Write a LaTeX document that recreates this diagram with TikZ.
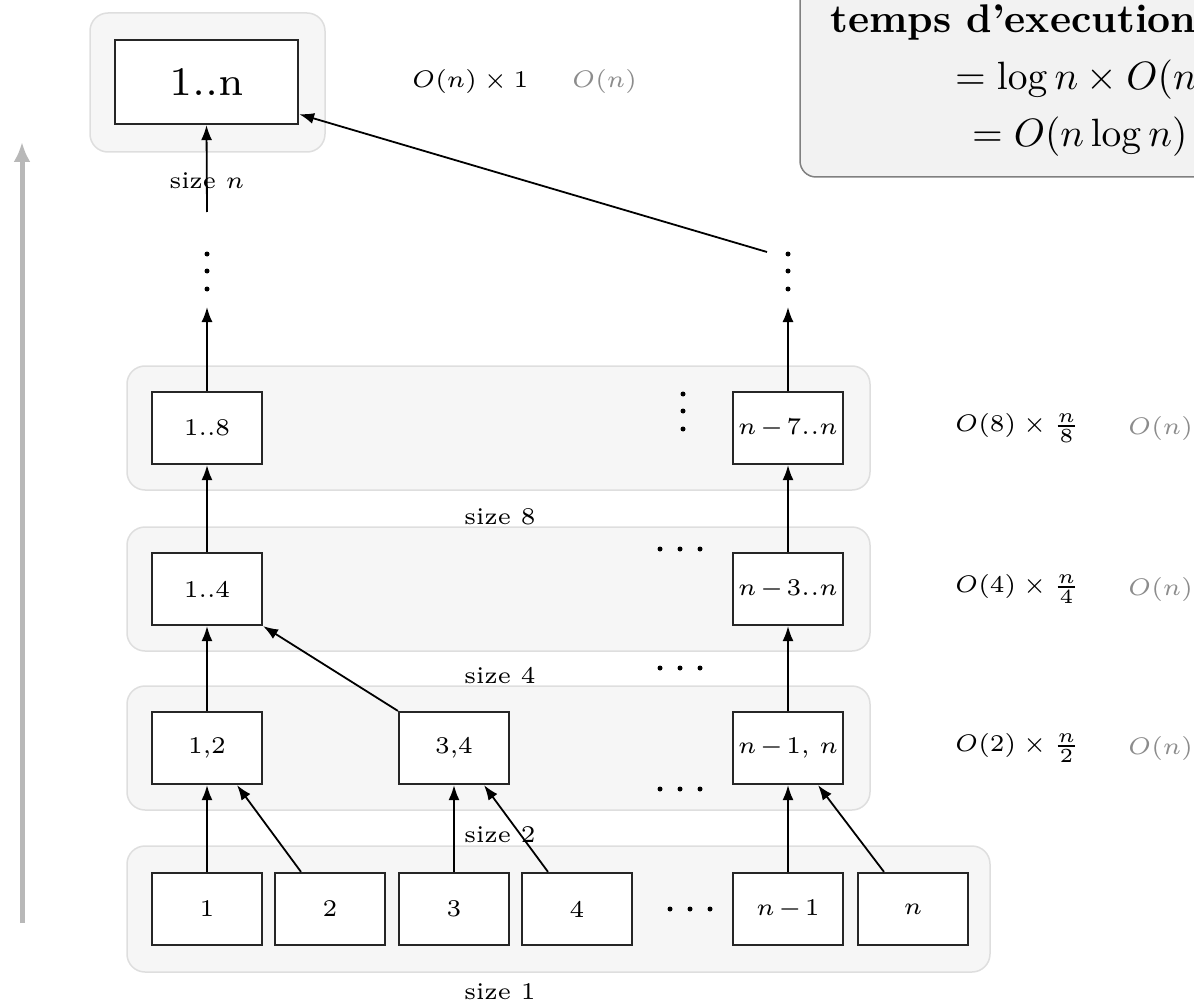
\documentclass[tikz,border=0pt]{standalone}
\usepackage{graphicx}
\usetikzlibrary{arrows.meta}
% small-design-size text blown up, for the cell and level labels
\newcommand{\tinylbl}[1]{\scalebox{4}{\fontsize{6}{7}\selectfont #1}}
% minus with tight spacing, as used in the cell labels
\newcommand{\tm}{\mkern2mu{-}\mkern2mu}
\begin{document}
\begin{tikzpicture}[x=1pt,y=-1pt,
  group/.style={rounded corners=18pt, fill=black!3.5, draw=black!13, line width=1.5pt},
  summary/.style={rounded corners=16pt, fill=black!5, draw=black!50, line width=1.5pt},
  cell/.style={draw=black!85, fill=white, line width=2.2pt, minimum width=110pt,
               minimum height=72pt, inner sep=0pt},
  link/.style={line width=1.8pt, -{Latex[length=15pt,width=11pt]}},
  progress/.style={line width=5pt, draw=black!28, -{Latex[length=20pt,width=17pt]}},
  dot/.style={circle, fill=black, inner sep=0pt, minimum size=5pt},
  lbl/.style={inner sep=0pt},
  cost/.style={inner sep=0pt, anchor=west},
  costgray/.style={inner sep=0pt, anchor=west, text=black!45},
]
\useasboundingbox (0,0) rectangle (1194,1003);
\clip (0,0) rectangle (1194,1003);

% running-time summary (runs off the right edge)
\draw[summary] (800,-40) rectangle (1260,177);
\node[anchor=base west, inner sep=0pt] (title) at (830,33)
  {\scalebox{4}{\bfseries temps d’execution}};
\node[anchor=base west, inner sep=0pt] (eqa) at (955,90)
  {\scalebox{3.95}{$= \log n \times O(n)$}};
\node[anchor=base west, inner sep=0pt] (eqb) at (972,147)
  {\scalebox{3.95}{$= O(n\log n)$}};

% level backgrounds
\draw[group] (90,13) rectangle (325,152);
\draw[group] (127,366) rectangle (870,490);
\draw[group] (127,527) rectangle (870,651);
\draw[group] (127,686) rectangle (870,810);
\draw[group] (127,846) rectangle (990,972);

% bottom-up progress arrow
\coordinate (pb) at (22,923);
\coordinate (pt) at (22,142);
\draw[progress] (pb) -- (pt);

% top level
\node[cell, minimum width=183pt, minimum height=84pt] (t1n) at (206.5,82)
  {\scalebox{5.8}{\fontsize{7}{8}\selectfont 1..n}};

% size 8
\node[cell] (e18) at (207,428) {\tinylbl{1..8}};
\node[cell] (en)  at (788,428) {\tinylbl{$n\tm 7..n$}};
% size 4
\node[cell] (d14) at (207,589) {\tinylbl{1..4}};
\node[cell] (dn)  at (788,589) {\tinylbl{$n\tm 3..n$}};
% size 2
\node[cell] (c12) at (207,748) {\tinylbl{1,2}};
\node[cell] (c34) at (454,748) {\tinylbl{3,4}};
\node[cell] (cn)  at (788,748) {\tinylbl{$n\tm 1$, $n$}};
% size 1
\node[cell] (b1)  at (207,909) {\tinylbl{1}};
\node[cell] (b2)  at (330,909) {\tinylbl{2}};
\node[cell] (b3)  at (454,909) {\tinylbl{3}};
\node[cell] (b4)  at (577,909) {\tinylbl{4}};
\node[cell] (bn1) at (788,909) {\tinylbl{$n\tm 1$}};
\node[cell] (bn)  at (913,909) {\tinylbl{$n$}};

% level names
\node[lbl] (sn) at (207,181) {\tinylbl{size $n$}};
\node[lbl] (s8) at (500,517) {\tinylbl{size 8}};
\node[lbl] (s4) at (500,676) {\tinylbl{size 4}};
\node[lbl] (s2) at (500,835) {\tinylbl{size 2}};
\node[lbl] (s1) at (500,992) {\tinylbl{size 1}};

% cost per level
\node[cost] (k1) at (412,82) {\tinylbl{$O(n)\times 1$}};
\node[costgray] (k1g) at (572,82) {\tinylbl{$O(n)$}};
\node[cost] (k8) at (955,428) {\tinylbl{$O(8)\times\frac{n}{8}$}};
\node[costgray] (k8g) at (1128,428) {\tinylbl{$O(n)$}};
\node[cost] (k4) at (955,589) {\tinylbl{$O(4)\times\frac{n}{4}$}};
\node[costgray] (k4g) at (1128,589) {\tinylbl{$O(n)$}};
\node[cost] (k2) at (955,748) {\tinylbl{$O(2)\times\frac{n}{2}$}};
\node[costgray] (k2g) at (1128,748) {\tinylbl{$O(n)$}};

% ellipsis dots
\foreach \y [count=\i] in {254,271,289} {
  \node[dot] (vl\i) at (207,\y) {};
  \node[dot] (vr\i) at (788,\y) {};
  \node[dot] (vm\i) at (683,\y+140) {};
}
\foreach \x [count=\i] in {660,680,700} {
  \node[dot] (ha\i) at (\x,549) {};
  \node[dot] (hb\i) at (\x,668) {};
  \node[dot] (hc\i) at (\x,789) {};
  \node[dot] (hd\i) at (\x+10,909) {};
}

% merges: size 1 -> size 2
\draw[link] (b1.north) -- (c12.south);
\draw[link] ([xshift=-29pt]b2.north) -- ([xshift=30pt]c12.south);
\draw[link] (b3.north) -- (c34.south);
\draw[link] ([xshift=-29pt]b4.north) -- ([xshift=30pt]c34.south);
\draw[link] (bn1.north) -- (cn.south);
\draw[link] ([xshift=-29pt]bn.north) -- ([xshift=30pt]cn.south);
% size 2 -> size 4
\draw[link] (c12.north) -- (d14.south);
\draw[link] (c34.north west) -- (d14.south east);
\draw[link] (cn.north) -- (dn.south);
% size 4 -> size 8
\draw[link] (d14.north) -- (e18.south);
\draw[link] (dn.north) -- (en.south);
% size 8 -> ... -> size n
\coordinate (upL) at (207,307);
\coordinate (upR) at (788,307);
\coordinate (fromL) at (207,212);
\coordinate (fromR) at (767,252);
\draw[link] (e18.north) -- (upL);
\draw[link] (en.north) -- (upR);
\draw[link] (fromL) -- (t1n.south);
\draw[link] (fromR) -- ([yshift=11pt]t1n.south east);
\end{tikzpicture}
\end{document}
